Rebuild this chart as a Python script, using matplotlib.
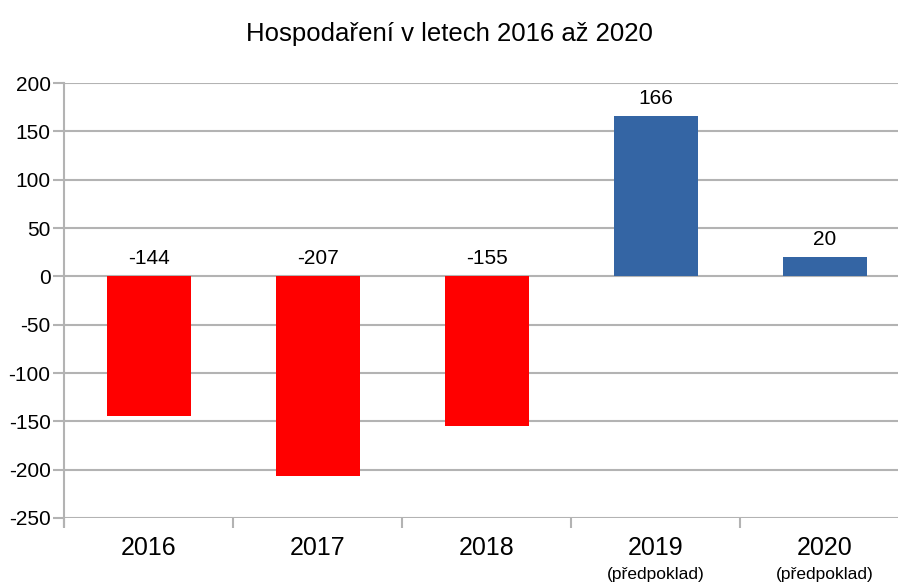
import matplotlib.pyplot as plt
import numpy as np

plt.rcParams["font.family"] = ["Liberation Sans", "DejaVu Sans"]

years = ["2016", "2017", "2018", "2019", "2020"]
notes = ["", "", "", "(předpoklad)", "(předpoklad)"]
values = [-144, -207, -155, 166, 20]
yticks = [-250, -200, -150, -100, -50, 0, 50, 100, 150, 200]

grid_c = "#b3b3b3"
x = np.arange(len(years))
colors = ["#ff0000" if v < 0 else "#3465a4" for v in values]

fig = plt.figure(figsize=(8.98, 5.83), dpi=100)
ax = fig.add_axes([0.0718, 0.1115, 0.9410, 0.7461])

ax.bar(x, values, width=0.5, color=colors, zorder=3)
for xi, v in zip(x, values):
    ax.annotate(str(v), (xi, max(v, 0)), xytext=(0, 6), textcoords="offset points",
                ha="center", va="bottom", fontsize=15, zorder=4)

ax.set_xlim(-0.5, len(years) - 0.5)
ax.set_ylim(-250, 200)
ax.set_yticks(yticks)
ax.set_yticklabels([str(t) for t in yticks], fontsize=15)
ax.yaxis.grid(True, color=grid_c, linewidth=1.5, zorder=0)
ax.tick_params(axis="y", length=8, width=1.5, color=grid_c, pad=2)

# category boundaries as major ticks, labels on minor ticks
ax.set_xticks(np.arange(-0.5, len(years), 1.0))
ax.set_xticklabels([])
ax.tick_params(axis="x", which="major", length=7, width=1.5, color=grid_c)
ax.set_xticks(x, minor=True)
ax.set_xticklabels(years, minor=True, fontsize=18)
ax.tick_params(axis="x", which="minor", length=0, pad=13)
for xi, n in zip(x, notes):
    if n:
        ax.annotate(n, (xi, 0), xycoords=("data", "axes fraction"), xytext=(0, -35),
                    textcoords="offset points", ha="center", va="top", fontsize=12.5)

for s in ["top", "right", "bottom"]:
    ax.spines[s].set_visible(False)
ax.spines["left"].set_color(grid_c)
ax.spines["left"].set_linewidth(1.5)
ax.spines["left"].set_bounds(-258, 200)

fig.suptitle("Hospodaření v letech 2016 až 2020", y=0.962, fontsize=18.5)

fig.savefig("out.png", dpi=100)
